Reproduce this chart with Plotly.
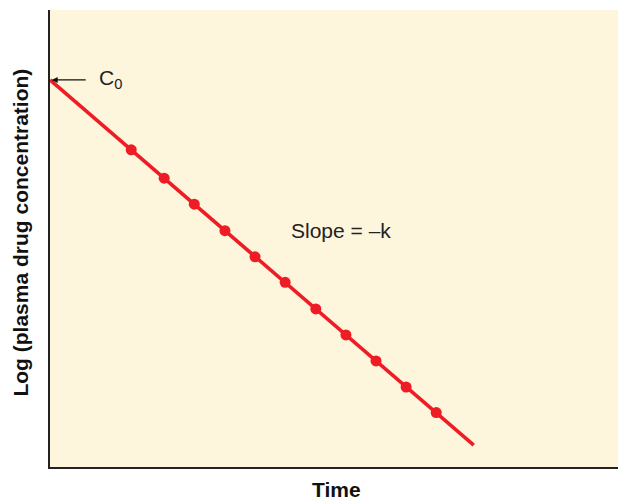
import plotly.graph_objects as go

# Data (arbitrary units)
line_time = [0.0, 74.6]
line_logc = [84.7, 4.8]
point_time = [14.3, 20.1, 25.4, 30.8, 36.1, 41.4, 46.8, 52.1, 57.4, 62.7, 68.0]
point_logc = [69.4, 63.2, 57.5, 51.7, 46.0, 40.4, 34.6, 28.9, 23.2, 17.5, 11.9]

RED = "#EE1C25"
BG = "#FDF5DC"
FONT = "Liberation Sans, Arial, sans-serif"

fig = go.Figure()
fig.add_trace(go.Scatter(x=line_time, y=line_logc, mode="lines",
                         line=dict(color=RED, width=3.6), hoverinfo="skip"))
fig.add_trace(go.Scatter(x=point_time, y=point_logc, mode="markers",
                         marker=dict(color=RED, size=11), hoverinfo="skip"))

fig.add_annotation(x=0.3, y=line_logc[0], xref="x", yref="y",
                   ax=36, ay=0, axref="pixel", ayref="pixel",
                   showarrow=True, arrowhead=2, arrowsize=1, arrowwidth=1.2,
                   arrowcolor="#111111", text=" ", font=dict(size=2))
fig.add_annotation(x=8.2, y=line_logc[0] + 0.3, xref="x", yref="y",
                   text="C<sub>0</sub>", showarrow=False, xanchor="left",
                   font=dict(size=21, color="#222222", family=FONT))
fig.add_annotation(x=42.0, y=51.8, xref="x", yref="y",
                   text="Slope = \u2013k", showarrow=False, xanchor="left",
                   font=dict(size=21, color="#222222", family=FONT))

# axis titles
fig.add_annotation(x=0.5, y=0, xref="paper", yref="paper", yanchor="middle",
                   yshift=-22, xshift=2, text="<b>Time</b>", showarrow=False,
                   font=dict(size=21, color="#111111", family=FONT))
fig.add_annotation(x=0, y=0.513, xref="paper", yref="paper", xanchor="center",
                   xshift=-29, textangle=-90, text="<b>Log (plasma drug concentration)</b>",
                   showarrow=False, font=dict(size=21, color="#111111", family=FONT))

fig.update_layout(
    width=618, height=499,
    margin=dict(l=50, r=0, t=10, b=32),
    paper_bgcolor="white", plot_bgcolor=BG,
    showlegend=False,
    font=dict(family=FONT, color="#111111"),
    xaxis=dict(range=[0, 100], showgrid=False, zeroline=False, showticklabels=False,
               ticks="", showline=True, linecolor="#222222", linewidth=2),
    yaxis=dict(range=[0, 100], showgrid=False, zeroline=False, showticklabels=False,
               ticks="", showline=True, linecolor="#222222", linewidth=1.5),
)

fig.write_html("out.html", config={"displayModeBar": False},
               post_script="document.body.style.margin='0';document.body.style.overflow='hidden';")
